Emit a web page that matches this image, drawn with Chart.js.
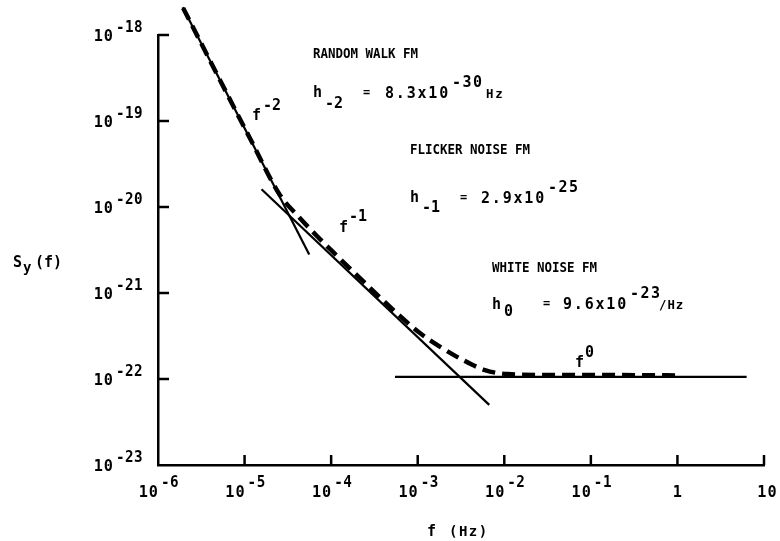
<!DOCTYPE html>
<html>
<head>
<meta charset="utf-8">
<script src="https://cdn.jsdelivr.net/npm/chart.js@4/dist/chart.umd.min.js"></script>
<style>
html,body{margin:0;padding:0;background:#fff;}
#wrap{width:780px;height:541px;position:relative;}
</style>
</head>
<body>
<div id="wrap"><canvas id="c"></canvas></div>
<script>
// ---------- data ----------
const freqTicks    = [1e-6, 1e-5, 1e-4, 1e-3, 1e-2, 1e-1, 1, 10];
const freqTickBase = ['10', '10', '10', '10', '10', '10', '1', '10'];
const freqTickExp  = ['-6', '-5', '-4', '-3', '-2', '-1', '', ''];
const syTicks      = [1e-18, 1e-19, 1e-20, 1e-21, 1e-22, 1e-23];
const syTickBase   = ['10', '10', '10', '10', '10', '10'];
const syTickExp    = ['-18', '-19', '-20', '-21', '-22', '-23'];

// f^-2 asymptote (random walk FM)
const randomWalkFreq = [1.93e-6, 5.58e-5];
const randomWalkSy   = [2.1e-18, 2.8e-21];
// f^-1 asymptote (flicker noise FM)
const flickerFreq = [1.57e-5, 6.7e-3];
const flickerSy   = [1.61e-20, 5.0e-23];
// f^0 asymptote (white noise FM)
const whiteFreq = [5.46e-4, 6.3];
const whiteSy   = [1.06e-22, 1.06e-22];
// measured total (dashed)
const totalFreq = [1.95e-6, 1.15e-5, 2.56e-5, 4.14e-5, 6.85e-5, 1.05e-4, 2.15e-4, 6.22e-4, 1.06e-3, 1.80e-3, 3.33e-3, 5.97e-3, 1.10e-2, 4.39e-2, 0.216, 1.07];
const totalSy   = [2.06e-18, 6.34e-20, 1.38e-20, 7.85e-21, 4.60e-21, 3.00e-21, 1.49e-21, 5.41e-22, 3.43e-22, 2.38e-22, 1.66e-22, 1.27e-22, 1.14e-22, 1.11e-22, 1.11e-22, 1.10e-22];

// ---------- drawing helpers ----------
const FAM = "'DejaVu Sans Mono', 'Liberation Mono', monospace";
function txt(ctx, str, x, y, size, hs, align, spacing) {
  ctx.save();
  ctx.font = 'bold ' + size + 'px ' + FAM;
  ctx.letterSpacing = (spacing || 0) + 'px';
  ctx.textBaseline = 'alphabetic';
  ctx.textAlign = 'left';
  const w = (ctx.measureText(str).width - (spacing || 0)) * hs;
  let x0 = x;
  if (align === 'right') x0 = x - w;
  else if (align === 'center') x0 = x - w / 2;
  ctx.translate(x0, y);
  ctx.scale(hs, 1);
  ctx.fillStyle = '#000';
  ctx.fillText(str, 0, 0);
  ctx.restore();
  return w;
}

const pts = (xs, ys) => xs.map((x, i) => ({x: x, y: ys[i]}));

const decorPlugin = {
  id: 'decor',
  afterDraw(chart) {
    const ctx = chart.ctx;
    const xs = chart.scales.x, ys = chart.scales.y;
    const a = chart.chartArea;
    ctx.save();
    ctx.strokeStyle = '#000';
    ctx.lineWidth = 2.5;
    ctx.lineCap = 'butt';
    // inward tick marks
    freqTicks.forEach((v, i) => {
      if (i === 0) return;
      const px = xs.getPixelForValue(v);
      ctx.beginPath(); ctx.moveTo(px, a.bottom); ctx.lineTo(px, a.bottom - 10); ctx.stroke();
    });
    syTicks.forEach((v, i) => {
      if (i === syTicks.length - 1) return;
      const py = ys.getPixelForValue(v);
      ctx.beginPath(); ctx.moveTo(a.left, py); ctx.lineTo(a.left + 11, py); ctx.stroke();
    });
    ctx.restore();

    // x tick labels
    freqTicks.forEach((v, i) => {
      const px = xs.getPixelForValue(v);
      const base = freqTickBase[i], ex = freqTickExp[i];
      if (ex) {
        txt(ctx, base, px, 497, 16, 0.95, 'right', 1);
        txt(ctx, ex, px + 3, 487, 15, 0.95, 'left', 0.5);
      } else if (base === '1') {
        txt(ctx, base, px, 497, 16, 0.95, 'center');
      } else {
        txt(ctx, base, px + 3, 497, 16, 0.95, 'center', 1);
      }
    });
    // y tick labels
    syTicks.forEach((v, i) => {
      const py = ys.getPixelForValue(v);
      txt(ctx, syTickBase[i], 113, py + 6, 16, 0.95, 'right', 1);
      txt(ctx, syTickExp[i], 116, py - 3, 15, 0.95, 'left', 0.5);
    });

    // axis titles
    txt(ctx, 'S', 13, 267, 15, 1, 'left');
    txt(ctx, 'y', 23, 272, 14, 1, 'left');
    txt(ctx, '(f)', 35, 267, 15, 1, 'left');
    txt(ctx, 'f', 427, 536, 15, 1, 'left');
    txt(ctx, '(Hz)', 449, 536, 14, 1, 'left', 1.5);

    // slope labels
    txt(ctx, 'f', 252, 120, 15, 1, 'left');
    txt(ctx, '-2', 263, 110, 15, 1, 'left');
    txt(ctx, 'f', 339, 232, 15, 1, 'left');
    txt(ctx, '-1', 349, 221, 15, 1, 'left');
    txt(ctx, 'f', 575, 367, 15, 1, 'left');
    txt(ctx, '0', 585, 357, 15, 1, 'left');

    // random walk annotation
    txt(ctx, 'RANDOM WALK FM', 313, 58, 14.5, 0.86, 'left');
    txt(ctx, 'h', 313, 97, 15, 1, 'left');
    txt(ctx, '-2', 325, 108, 15, 1, 'left');
    txt(ctx, '=', 363, 96, 12, 1, 'left');
    txt(ctx, '8.3x10', 385, 98, 15, 1, 'left', 1.8);
    txt(ctx, '-30', 452, 87, 15, 1, 'left', 1.5);
    txt(ctx, 'Hz', 486, 98, 13, 0.95, 'left', 2);

    // flicker annotation
    txt(ctx, 'FLICKER NOISE FM', 410, 154, 14.5, 0.86, 'left');
    txt(ctx, 'h', 410, 202, 15, 1, 'left');
    txt(ctx, '-1', 422, 212, 15, 1, 'left');
    txt(ctx, '=', 460, 201, 12, 1, 'left');
    txt(ctx, '2.9x10', 481, 203, 15, 1, 'left', 1.8);
    txt(ctx, '-25', 548, 192, 15, 1, 'left', 1.5);

    // white noise annotation
    txt(ctx, 'WHITE NOISE FM', 492, 272, 14.5, 0.86, 'left');
    txt(ctx, 'h', 492, 309, 15, 1, 'left');
    txt(ctx, '0', 504, 316, 15, 1, 'left');
    txt(ctx, '=', 543, 307, 12, 1, 'left');
    txt(ctx, '9.6x10', 563, 309, 15, 1, 'left', 1.8);
    txt(ctx, '-23', 630, 298, 15, 1, 'left', 1.5);
    txt(ctx, '/Hz', 659, 309, 13, 0.95, 'left', 1);
  }
};

const solid = (data) => ({
  data: data, borderColor: '#000', borderWidth: 2.2, pointRadius: 0,
  fill: false, tension: 0, clip: false
});

new Chart(document.getElementById('c'), {
  type: 'line',
  data: {
    datasets: [
      solid(pts(randomWalkFreq, randomWalkSy)),
      solid(pts(flickerFreq, flickerSy)),
      solid(pts(whiteFreq, whiteSy)),
      {
        data: pts(totalFreq, totalSy), borderColor: '#000', borderWidth: 4.5,
        borderDash: [13, 7], borderCapStyle: 'butt', pointRadius: 0, fill: false,
        tension: 0.4, cubicInterpolationMode: 'monotone', clip: false
      }
    ]
  },
  options: {
    responsive: true, maintainAspectRatio: false, animation: false,
    layout: {padding: {top: 35, right: 16, left: 0, bottom: 0}},
    plugins: {legend: {display: false}, tooltip: {enabled: false}, title: {display: false}},
    scales: {
      x: {
        type: 'logarithmic', min: 1e-6, max: 10,
        ticks: {display: false}, grid: {display: false, drawTicks: false},
        border: {display: true, color: '#000', width: 2.5},
        afterFit: (s) => { s.height = 76; }
      },
      y: {
        type: 'logarithmic', min: 1e-23, max: 1e-18,
        ticks: {display: false}, grid: {display: false, drawTicks: false},
        border: {display: true, color: '#000', width: 2.5},
        afterFit: (s) => { s.width = 158; }
      }
    }
  },
  plugins: [decorPlugin]
});
</script>
</body>
</html>
